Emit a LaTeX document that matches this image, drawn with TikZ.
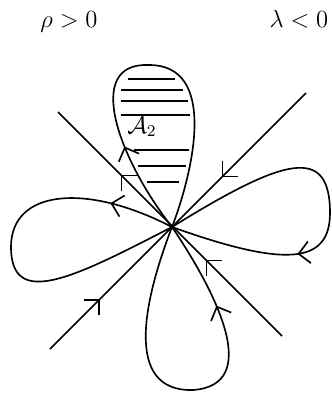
\documentclass[tikz,border=0pt]{standalone}
\usepackage{tikz}
\usetikzlibrary{decorations.markings,arrows.meta}

\tikzset{
	barb/.tip={Straight Barb[angle=90:7.5pt]},
	flow/.style={postaction={decorate, decoration={markings, mark=at position #1 with {\arrow{barb}}}}},
	backflow/.style={postaction={decorate, decoration={markings, mark=at position #1 with {\arrowreversed{barb}}}}}
}

\begin{document}
\begin{tikzpicture}[x=0.0171cm, y=-0.0171cm, thick]
		\useasboundingbox (0, 0) rectangle (332, 394);

		\node [anchor=base, font=\large] (rho) at (69, 27) {$\rho > 0$};
		\node [anchor=base, font=\large] (lam) at (299, 27) {$\lambda < 0$};

		% saddle point and the two separatrix lines
		\coordinate (O) at (172, 227);
		\coordinate (nw) at (58, 112);
		\coordinate (se) at (282, 336);
		\coordinate (sw) at (50, 349);
		\coordinate (ne) at (306, 93);
		\draw [flow=0.34, flow=0.72] (se) -- (nw);
		\draw [flow=0.195, backflow=0.67] (sw) -- (ne);

		% four homoclinic loops, precomputed controls
		\draw [flow=0.24] (O) .. controls (118, 158) and (84, 63) .. (148, 65)
			.. controls (220, 64) and (192, 175) .. (O);
		\draw [flow=0.17] (O) .. controls (85, 182) and (11, 190) .. (11, 247)
			.. controls (11, 310) and (75, 277) .. (O);
		\draw [flow=0.67] (O) .. controls (285, 157) and (330, 145) .. (330, 213)
			.. controls (330, 265) and (284, 267) .. (O);
		\draw [flow=0.77] (O) .. controls (145, 297) and (122, 392) .. (193, 390)
			.. controls (262, 385) and (218, 295) .. (O);

		% hatching of A_2
		\foreach \y/\xa/\xb in {79/128/175, 90/121/183, 101/121/188, 115/121/190, 150/134/189, 166/138/186, 182/147/179}
			\draw (\xa, \y) -- (\xb, \y);
		\node [anchor=base, font=\large] (A2) at (142, 133) {$\mathcal{A}_2$};
	\end{tikzpicture}
\end{document}
